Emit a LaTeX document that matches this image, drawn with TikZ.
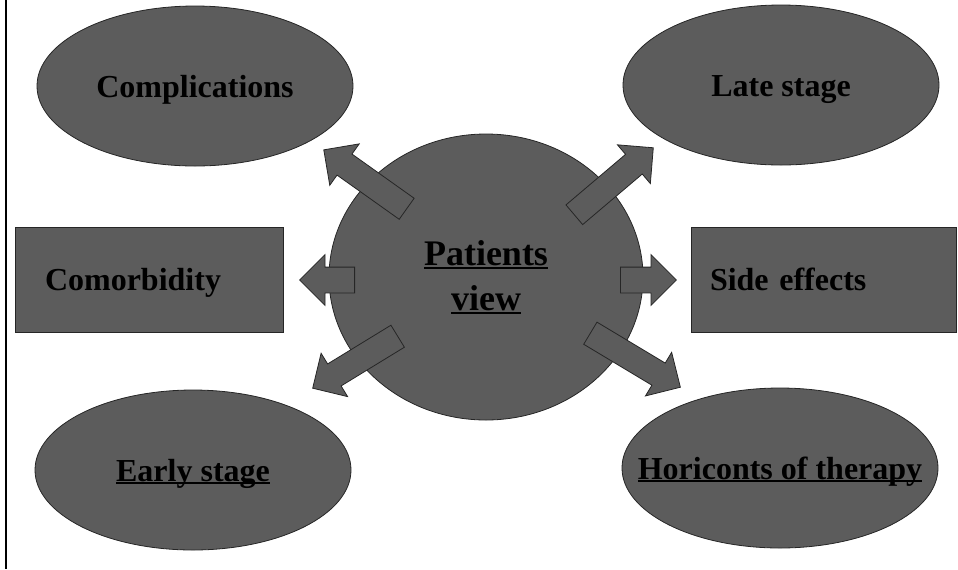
\documentclass[tikz,border=0pt]{standalone}
\usepackage{fontspec}
\setmainfont{Liberation Serif}
\usetikzlibrary{shapes.geometric, shapes.arrows, calc}
\definecolor{boxgray}{RGB}{92,92,92}
\newcommand{\baseul}[1]{\setbox0\hbox{#1}\rlap{\rule[-1.6pt]{\wd0}{0.9pt}}\box0}
\newcommand{\fatconnect}[3]{\path let \p1=(#2), \p2=(#3), \n1={atan2(\y2-\y1,\x2-\x1)},
  \n2={veclen(\x2-\x1,\y2-\y1)} in node[fatarrow, rotate=\n1, minimum height=\n2, anchor=tail] (#1) at (\p1) {};}
\tikzset{
  oval/.style={ellipse, draw=black!85, fill=boxgray, minimum width=158pt, minimum height=80pt,
    inner sep=0pt, text height=11pt, text depth=0pt, font=\bfseries\fontsize{16}{19}\selectfont},
  bar/.style={rectangle, draw=black!85, fill=boxgray, minimum height=52.5pt, align=left,
    text height=11pt, text depth=0pt, font=\bfseries\fontsize{16}{19}\selectfont},
  fatarrow/.style={single arrow, draw=black!85, fill=boxgray, inner sep=6.25pt, minimum width=0pt,
    single arrow head extend=6.25pt, single arrow tip angle=90}
}

\begin{document}
\begin{tikzpicture}[x=0.5pt, y=-0.5pt]
\useasboundingbox (0,0) rectangle (958,569);
\draw[line width=1pt] (5.5,0) -- (5.5,569);
\node[oval] (compl) at (195,86) {Complications};
\node[oval] (late) at (781,85) {Late stage};
\node[oval] (early) at (193,470) {\baseul{Early stage}};
\node[oval, inner xsep=-20pt] (horic) at (780,468) {\baseul{Horiconts of therapy}};
\node[bar, minimum width=134pt, text width=104pt, inner xsep=15pt] (comorb) at (149,279.5) {Comorbidity};
\node[bar, minimum width=132.5pt, text width=113.5pt, inner xsep=9.5pt] (side) at (823.5,279.5) {Side effects};
\node[ellipse, draw=black!85, fill=boxgray, minimum width=157pt, minimum height=143pt, inner sep=0pt,
  align=center, font=\bfseries\fontsize{18}{22.5}\selectfont] (pv) at (486,277) {\baseul{Patients}\\\baseul{view}};
\coordinate (t1) at (407,209); \coordinate (h1) at (324,150);
\coordinate (t2) at (574,215); \coordinate (h2) at (653,148);
\coordinate (t3) at (355,280); \coordinate (h3) at (300,280);
\coordinate (t4) at (620,280); \coordinate (h4) at (676,280);
\coordinate (t5) at (398,336); \coordinate (h5) at (313,388);
\coordinate (t6) at (590,333); \coordinate (h6) at (680,387);
\fatconnect{arcompl}{t1}{h1}
\fatconnect{arlate}{t2}{h2}
\fatconnect{arcomorb}{t3}{h3}
\fatconnect{arside}{t4}{h4}
\fatconnect{arearly}{t5}{h5}
\fatconnect{arhoric}{t6}{h6}
\end{tikzpicture}
\end{document}
